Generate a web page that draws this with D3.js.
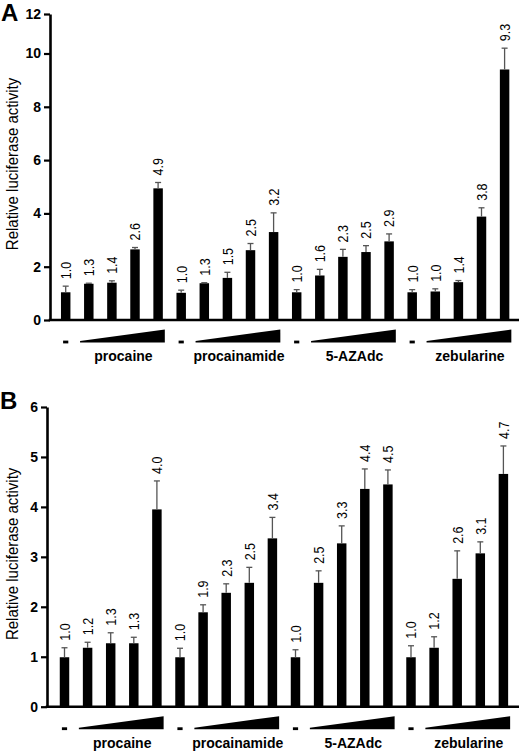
<!DOCTYPE html>
<html>
<head>
<meta charset="utf-8">
<script src="https://cdn.jsdelivr.net/npm/d3@7"></script>
<style>
  html, body { margin: 0; padding: 0; background: #fff; }
  svg { display: block; }
  text { font-family: Arial, "Liberation Sans", sans-serif; }
</style>
</head>
<body>
<div id="chart"></div>
<script>
// ---------- data ----------
const groups = ["procaine", "procainamide", "5-AZAdc", "zebularine"];
const barsPerGroup = 5;

// Panel A
const valuesA = [1.04, 1.36, 1.40, 2.65, 4.94,
                 1.02, 1.38, 1.58, 2.62, 3.30,
                 1.04, 1.67, 2.37, 2.55, 2.95,
                 1.04, 1.07, 1.42, 3.88, 9.40];
const errorsA = [0.23, 0.02, 0.07, 0.07, 0.22,
                 0.10, 0.02, 0.21, 0.25, 0.72,
                 0.10, 0.23, 0.28, 0.24, 0.28,
                 0.10, 0.10, 0.06, 0.33, 0.87];
const labelsA = ["1.0", "1.3", "1.4", "2.6", "4.9",
                 "1.0", "1.3", "1.5", "2.5", "3.2",
                 "1.0", "1.6", "2.3", "2.5", "2.9",
                 "1.0", "1.0", "1.4", "3.8", "9.3"];
const ticksA = [0, 2, 4, 6, 8, 10, 12];

// Panel B
const valuesB = [0.99, 1.18, 1.27, 1.27, 3.95,
                 0.99, 1.89, 2.28, 2.48, 3.37,
                 0.99, 2.48, 3.27, 4.36, 4.45,
                 0.99, 1.18, 2.56, 3.07, 4.66];
const errorsB = [0.19, 0.11, 0.21, 0.12, 0.57,
                 0.18, 0.15, 0.18, 0.31, 0.42,
                 0.15, 0.24, 0.35, 0.40, 0.29,
                 0.23, 0.22, 0.56, 0.23, 0.56];
const labelsB = ["1.0", "1.2", "1.3", "1.3", "4.0",
                 "1.0", "1.9", "2.3", "2.5", "3.4",
                 "1.0", "2.5", "3.3", "4.4", "4.5",
                 "1.0", "1.2", "2.6", "3.1", "4.7"];
const ticksB = [0, 1, 2, 3, 4, 5, 6];

const yTitle = "Relative luciferase activity";

// ---------- drawing ----------
const W = 520, H = 751;
const svg = d3.select("#chart").append("svg")
  .attr("width", W).attr("height", H)
  .attr("viewBox", `0 0 ${W} ${H}`);

function drawPanel(opt) {
  const { letter, values, errors, labels, ticks, yDomain, yRange,
          axisX, xStart, xEnd, letterPos } = opt;
  const g = svg.append("g");

  const n = values.length;
  const x = d3.scaleBand().domain(d3.range(n))
    .range([xStart, xEnd]).paddingInner(0.59).paddingOuter(0.295);
  const y = d3.scaleLinear().domain(yDomain).range(yRange);
  const y0 = y(0);
  const bw = x.bandwidth();

  // bars
  g.selectAll("rect.bar").data(values).join("rect")
    .attr("class", "bar")
    .attr("x", (d, i) => x(i))
    .attr("y", d => y(d))
    .attr("width", bw)
    .attr("height", d => y0 - y(d))
    .attr("fill", "#000");

  // error bars (upper only)
  const eb = g.selectAll("g.err").data(values).join("g").attr("class", "err");
  eb.append("line")
    .attr("x1", (d, i) => x(i) + bw / 2).attr("x2", (d, i) => x(i) + bw / 2)
    .attr("y1", d => y(d)).attr("y2", (d, i) => y(d + errors[i]))
    .attr("stroke", "#555").attr("stroke-width", 1.3);
  eb.append("line")
    .attr("x1", (d, i) => x(i) + bw / 2 - 3).attr("x2", (d, i) => x(i) + bw / 2 + 3)
    .attr("y1", (d, i) => y(d + errors[i])).attr("y2", (d, i) => y(d + errors[i]))
    .attr("stroke", "#555").attr("stroke-width", 1.3);

  // value labels (rotated)
  g.selectAll("text.val").data(labels).join("text")
    .attr("class", "val")
    .attr("transform", (d, i) => {
      const cx = x(i) + bw / 2 + 0.5;
      const cy = y(values[i] + errors[i]) - 7;
      return `translate(${cx},${cy}) rotate(-90) scale(1,1.18)`;
    })
    .attr("text-anchor", "start")
    .attr("dominant-baseline", "central")
    .attr("font-size", 12.5)
    .attr("fill", "#000")
    .text(d => d);

  // y axis
  const yAxis = d3.axisLeft(y).tickValues(ticks).tickSize(6).tickSizeOuter(0).tickPadding(3)
    .tickFormat(d3.format("d"));
  const ga = g.append("g").attr("transform", `translate(${axisX},0)`).call(yAxis);
  ga.select(".domain").attr("stroke", "#000").attr("stroke-width", 2.6);
  ga.selectAll(".tick line").attr("stroke", "#000").attr("stroke-width", 2.2);
  ga.selectAll(".tick text").attr("font-size", 14).attr("font-weight", "bold")
    .attr("font-family", "Arial, 'Liberation Sans', sans-serif").attr("fill", "#000");

  // x axis baseline
  g.append("line")
    .attr("x1", axisX - 1.3).attr("x2", 519)
    .attr("y1", y0).attr("y2", y0)
    .attr("stroke", "#000").attr("stroke-width", 2.6);

  // group decorations
  groups.forEach((name, gi) => {
    const first = gi * barsPerGroup;
    const ctrlX = x(first) + bw / 2;
    g.append("rect")
      .attr("x", ctrlX - 2.6).attr("y", y0 + 20.6)
      .attr("width", 5.2).attr("height", 2.8).attr("fill", "#000");
    const wl = x(first + 1) - 4;
    const wr = x(first + barsPerGroup - 1) + bw + 2;
    const wb = y0 + 22.5, wt = y0 + 9.5;
    g.append("polygon")
      .attr("points", `${wl},${wb} ${wr},${wb} ${wr},${wt} ${wl},${wb - 1.5}`)
      .attr("fill", "#000");
    g.append("text")
      .attr("x", (wl + wr) / 2 + 1).attr("y", y0 + 41)
      .attr("text-anchor", "middle")
      .attr("font-size", 14).attr("font-weight", "bold").attr("fill", "#000")
      .text(name);
  });

  // y title
  const yMid = (yRange[0] + yRange[yRange.length - 1]) / 2 - 3;
  g.append("text")
    .attr("transform", `translate(12,${yMid}) rotate(-90) scale(1,1.12)`)
    .attr("text-anchor", "middle")
    .attr("dominant-baseline", "central")
    .attr("font-size", 15).attr("fill", "#000")
    .text(yTitle);

  // panel letter
  g.append("text")
    .attr("x", letterPos[0]).attr("y", letterPos[1])
    .attr("font-size", 24).attr("font-weight", "bold").attr("fill", "#000")
    .text(letter);
}

drawPanel({
  letter: "A", values: valuesA, errors: errorsA, labels: labelsA, ticks: ticksA,
  yDomain: [0, 10, 12], yRange: [320, 53.5, 14],
  axisX: 50, xStart: 54.15, xEnd: 516.15, letterPos: [1, 21]
});
drawPanel({
  letter: "B", values: valuesB, errors: errorsB, labels: labelsB, ticks: ticksB,
  yDomain: [0, 6], yRange: [706.7, 407],
  axisX: 47, xStart: 52.95, xEnd: 514.95, letterPos: [0, 409]
});
</script>
</body>
</html>
